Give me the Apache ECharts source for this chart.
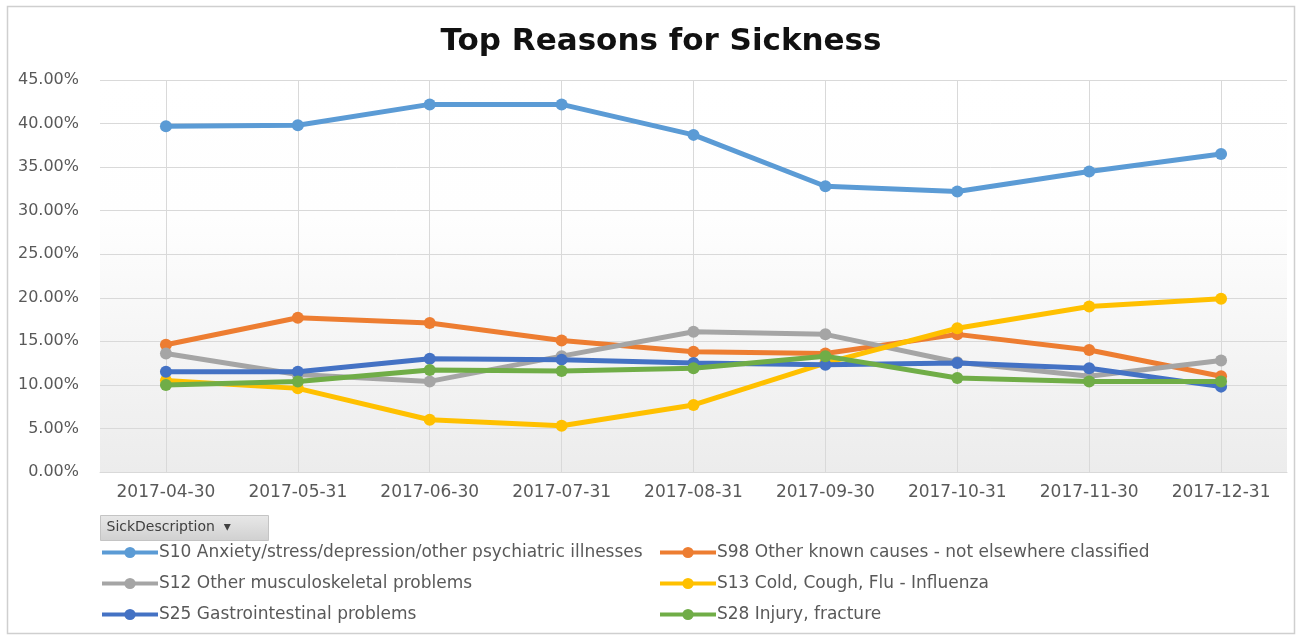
<!DOCTYPE html>
<html>
<head>
<meta charset="utf-8">
<script src="https://cdn.jsdelivr.net/npm/echarts@6/dist/echarts.min.js"></script>
<style>
html,body{margin:0;padding:0;background:#ffffff;}
#chart{width:1298px;height:637px;}
</style>
</head>
<body>
<div id="chart"></div>
<script>
const categories = ['2017-04-30','2017-05-31','2017-06-30','2017-07-31','2017-08-31','2017-09-30','2017-10-31','2017-11-30','2017-12-31'];
const seriesNames = [
  'S10 Anxiety/stress/depression/other psychiatric illnesses',
  'S98 Other known causes - not elsewhere classified',
  'S12 Other musculoskeletal problems',
  'S13 Cold, Cough, Flu - Influenza',
  'S25 Gastrointestinal problems',
  'S28 Injury, fracture'
];
const s10 = [39.7, 39.8, 42.2, 42.2, 38.7, 32.8, 32.2, 34.5, 36.5];
const s98 = [14.6, 17.7, 17.1, 15.1, 13.8, 13.6, 15.8, 14.0, 11.0];
const s12 = [13.6, 11.2, 10.4, 13.3, 16.1, 15.8, 12.6, 11.0, 12.8];
const s13 = [10.5, 9.6, 6.0, 5.3, 7.7, 12.5, 16.5, 19.0, 19.9];
const s25 = [11.5, 11.5, 13.0, 12.9, 12.5, 12.3, 12.5, 11.9, 9.8];
const s28 = [10.0, 10.4, 11.7, 11.6, 11.9, 13.3, 10.8, 10.4, 10.4];
const yTicks = [0, 5, 10, 15, 20, 25, 30, 35, 40, 45];

const colors = ['#5B9BD5', '#ED7D31', '#A5A5A5', '#FFC000', '#4472C4', '#70AD47'];
const allData = [s10, s98, s12, s13, s25, s28];

const chart = echarts.init(document.getElementById('chart'));
const font = 'DejaVu Sans';

const option = {
  backgroundColor: '#ffffff',
  animation: false,
  color: colors,
  title: {
    text: 'Top Reasons for Sickness',
    left: 656,
    textAlign: 'center',
    top: 21,
    textStyle: { fontFamily: font, fontWeight: 'bold', fontSize: 31, color: '#111111' }
  },
  grid: {
    left: 100, right: 11, top: 80, bottom: 165,
    show: true,
    borderWidth: 0,
    backgroundColor: new echarts.graphic.LinearGradient(0, 0, 0, 1, [
      { offset: 0, color: '#ffffff' },
      { offset: 0.35, color: '#fefefe' },
      { offset: 1, color: '#ececec' }
    ])
  },
  xAxis: {
    type: 'category',
    data: categories,
    boundaryGap: true,
    axisLine: { show: true, lineStyle: { color: '#d9d9d9' } },
    axisTick: { show: false },
    axisLabel: { fontFamily: font, fontSize: 17, color: '#595959', margin: 12 },
    splitLine: { show: true, alignWithLabel: true, lineStyle: { color: '#d9d9d9', width: 1 } }
  },
  yAxis: {
    type: 'value',
    min: yTicks[0],
    max: yTicks[yTicks.length - 1],
    interval: yTicks[1] - yTicks[0],
    axisLine: { show: false },
    axisTick: { show: false },
    axisLabel: {
      fontFamily: font, fontSize: 16, color: '#595959', margin: 21,
      formatter: v => v.toFixed(2) + '%'
    },
    splitLine: { lineStyle: { color: '#d9d9d9', width: 1 } }
  },
  legend: [
    {
      orient: 'vertical', left: 100, top: 544, itemGap: 14, padding: 0,
      itemWidth: 56, itemHeight: 14,
      lineStyle: { width: 4 },
      data: [seriesNames[0], seriesNames[2], seriesNames[4]],
      textStyle: { fontFamily: font, fontSize: 17, color: '#595959', padding: [0, 0, 0, -4] }
    },
    {
      orient: 'vertical', left: 658, top: 544, itemGap: 14, padding: 0,
      itemWidth: 56, itemHeight: 14,
      lineStyle: { width: 4 },
      data: [seriesNames[1], seriesNames[3], seriesNames[5]],
      textStyle: { fontFamily: font, fontSize: 17, color: '#595959', padding: [0, 0, 0, -4] }
    }
  ],
  graphic: [
    {
      type: 'rect', left: 5, top: 4, z: -10,
      shape: { width: 1287, height: 627 },
      style: { fill: 'none', stroke: '#cfcfcf', lineWidth: 1.5 }
    },
    {
      type: 'group', left: 100, top: 515,
      children: [
        { type: 'rect', shape: { x: 0, y: 0, width: 168, height: 25 },
          style: { fill: new echarts.graphic.LinearGradient(0, 0, 0, 1, [
            { offset: 0, color: '#e8e8e8' }, { offset: 1, color: '#d0d0d0' }]),
            stroke: '#c4c4c4', lineWidth: 1 } },
        { type: 'text', x: 6, y: 5,
          style: { text: 'SickDescription  ▾', fontFamily: font, fontSize: 14, fill: '#404040' } }
      ]
    }
  ],
  series: seriesNames.map((name, i) => ({
    name: name,
    type: 'line',
    data: allData[i],
    symbol: 'circle',
    symbolSize: 12,
    lineStyle: { width: 5 },
    itemStyle: { color: colors[i] },
    z: 2 + i
  }))
};
chart.setOption(option);
</script>
</body>
</html>
